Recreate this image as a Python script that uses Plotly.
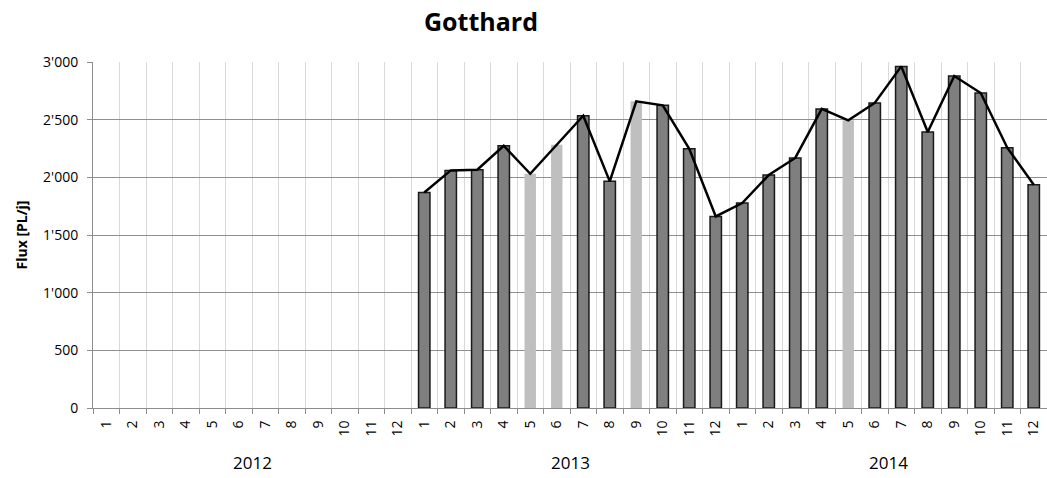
import plotly.graph_objects as go

years = ["2012", "2013", "2014"]
months = [str(m) for m in range(1, 13)]
flux_2012 = [None] * 12
flux_2013 = [1869, 2060, 2066, 2274, 2031, 2283, 2534, 1965, 2659, 2624, 2248, 1661]
flux_2014 = [1777, 2020, 2168, 2593, 2494, 2645, 2962, 2393, 2879, 2731, 2257, 1936]
estimated_2013 = [5, 6, 9]
estimated_2014 = [5]

values = flux_2012 + flux_2013 + flux_2014
labels = months * 3
est = [False] * 12 + [m in estimated_2013 for m in range(1, 13)] + [m in estimated_2014 for m in range(1, 13)]
x = list(range(len(values)))

bar_colors = ["#bfbfbf" if e else "#7f7f7f" for e in est]
line_widths = [0 if e else 1.5 for e in est]

fig = go.Figure()
fig.add_trace(go.Bar(
    x=x, y=values,
    marker=dict(color=bar_colors, line=dict(color="#1a1a1a", width=line_widths)),
    showlegend=False,
))
fig.add_trace(go.Scatter(
    x=x, y=values, mode="lines",
    line=dict(color="black", width=2.5),
    connectgaps=False, showlegend=False,
))

for i, yr in enumerate(years):
    idx = x[i * 12:(i + 1) * 12]
    fig.add_annotation(
        x=sum(idx) / len(idx), y=0, xref="x", yref="paper",
        text=yr, showarrow=False, yanchor="middle", yshift=-54,
        font=dict(family="Open Sans", size=17, color="black"),
    )

fig.update_layout(
    width=1047, height=478,
    margin=dict(l=93, r=0, t=62, b=70, autoexpand=False),
    plot_bgcolor="white", paper_bgcolor="white",
    bargap=0.57,
    separators=".'",
    font=dict(family="Open Sans", size=14, color="black"),
    title=dict(
        text="<b>Gotthard</b>", x=481 / 1047, xanchor="center",
        y=1 - 22 / 478, yanchor="middle", xref="container", yref="container",
        font=dict(family="Open Sans", size=25, color="black"),
    ),
)
fig.update_xaxes(
    range=[-0.5, len(values) - 0.5],
    tickmode="array", tickvals=x, ticktext=labels, tickangle=-90,
    ticks="", showgrid=False, zeroline=False,
    showline=True, linecolor="#8c8c8c", linewidth=1,
    tickfont=dict(family="Open Sans", size=14, color="black"),
    ticklabelstandoff=6,
    minor=dict(tickmode="linear", tick0=-0.5, dtick=1, ticks="outside",
               ticklen=5, tickcolor="#8c8c8c", showgrid=True,
               gridcolor="#d9d9d9", gridwidth=1),
)
fig.update_yaxes(
    range=[0, 3000], dtick=500, tickformat=",d",
    showgrid=True, gridcolor="#8f8f8f", gridwidth=1,
    zeroline=False, showline=True, linecolor="#8c8c8c", linewidth=1,
    ticks="outside", ticklen=5, tickcolor="#8c8c8c",
    ticklabelstandoff=6,
    tickfont=dict(family="Open Sans", size=14, color="black"),
    title=dict(text="<b>Flux [PL/j]</b>", standoff=12,
               font=dict(family="Open Sans", size=14, color="black")),
)

fig.write_html("out.html", config={"displayModeBar": False},
               post_script="document.body.style.margin='0';")
